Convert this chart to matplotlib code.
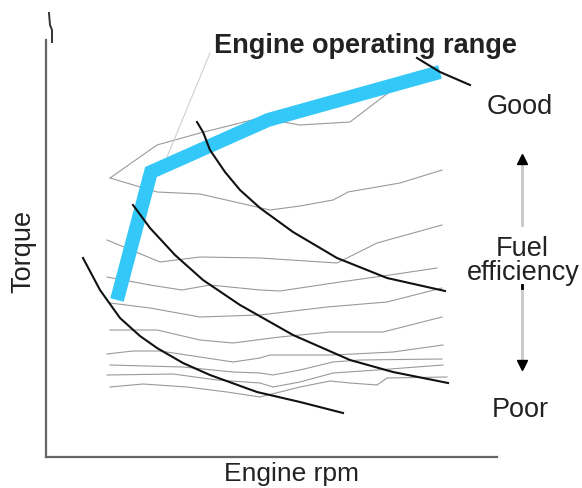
# ==========================================
# ENGINE OPERATING RANGE - FUEL EFFICIENCY MAP
# ==========================================

import matplotlib
matplotlib.use("Agg")
import matplotlib.pyplot as plt

plt.rcParams["font.family"] = ["Liberation Sans", "DejaVu Sans"]

# ==========================================
# DATA (rpm / torque in arbitrary chart units)
# ==========================================
# thick blue operating line
range_rpm = [71, 105, 222, 394]
range_torque = [157, 285, 337, 385]

# leader from the title to the operating line
leader_rpm = [164, 121]
leader_torque = [404, 300]

# black constant power curves
power1_rpm = [37, 54, 74, 94, 111, 137, 164, 211, 254, 297]
power1_torque = [199, 167, 139, 121, 109, 94, 82, 65, 55, 44]

power2_rpm = [87, 104, 129, 157, 194, 217, 247, 304, 347, 402]
power2_torque = [252, 229, 202, 177, 152, 139, 122, 97, 85, 74]

power3_rpm = [151, 157, 164, 179, 194, 214, 247, 291, 341, 399]
power3_torque = [335, 325, 307, 285, 267, 249, 225, 199, 179, 166]

power4_rpm = [371, 394, 424]
power4_torque = [399, 385, 372]

# grey fuel efficiency contours (best at top)
eff1_rpm = [64, 111, 154, 214, 254, 304, 359, 341]
eff1_torque = [279, 312, 324, 339, 332, 335, 377, 374]

eff2_rpm = [64, 111, 154, 224, 254, 287, 302, 354, 396]
eff2_torque = [279, 265, 263, 247, 251, 257, 265, 274, 287]

eff3_rpm = [61, 114, 154, 214, 291, 331, 396]
eff3_torque = [217, 195, 200, 199, 194, 214, 232]

eff4_rpm = [61, 104, 136, 164, 214, 234, 294, 344, 391]
eff4_torque = [180, 172, 167, 172, 167, 166, 175, 182, 189]

eff5_rpm = [64, 104, 154, 214, 281, 341, 396]
eff5_torque = [154, 149, 140, 142, 150, 155, 169]

eff6_rpm = [64, 111, 154, 187, 234, 284, 337, 396]
eff6_torque = [127, 127, 117, 114, 120, 125, 125, 140]

eff7_rpm = [61, 87, 114, 154, 187, 214, 224, 287, 347, 397]
eff7_torque = [103, 106, 106, 100, 95, 99, 102, 102, 105, 112]

eff8_rpm = [64, 137, 187, 214, 227, 254, 287, 314, 396]
eff8_torque = [92, 90, 85, 84, 82, 87, 95, 97, 98]

eff9_rpm = [61, 127, 171, 214, 227, 254, 287, 331, 397]
eff9_torque = [82, 83, 77, 74, 70, 75, 84, 87, 92]

eff10_rpm = [64, 97, 141, 181, 214, 254, 284, 304, 331, 341, 401]
eff10_torque = [70, 73, 70, 65, 60, 70, 76, 74, 72, 79, 80]

eff_rpm = [eff1_rpm, eff2_rpm, eff3_rpm, eff4_rpm, eff5_rpm,
           eff6_rpm, eff7_rpm, eff8_rpm, eff9_rpm, eff10_rpm]
eff_torque = [eff1_torque, eff2_torque, eff3_torque, eff4_torque, eff5_torque,
              eff6_torque, eff7_torque, eff8_torque, eff9_torque, eff10_torque]

power_rpm = [power1_rpm, power2_rpm, power3_rpm, power4_rpm]
power_torque = [power1_torque, power2_torque, power3_torque, power4_torque]

# ==========================================
# FIGURE
# ==========================================
fig = plt.figure(figsize=(5.82, 4.88), dpi=100)
ax = fig.add_axes([46 / 582, 31 / 488, 451 / 582, 417 / 488])
ax.set_xlim(0, 451)
ax.set_ylim(0, 417)

for s in ["top", "right"]:
    ax.spines[s].set_visible(False)
for s in ["left", "bottom"]:
    ax.spines[s].set_color("#666666")
    ax.spines[s].set_linewidth(1.6)
ax.set_xticks([])
ax.set_yticks([])

# small break mark on top of the torque axis
ax.plot([3, 4, 6, 6], [444, 432, 427, 415], color="#333333", lw=1.4,
        clip_on=False)

# ==========================================
# CONTOURS AND CURVES
# ==========================================
for xs, ys in zip(eff_rpm, eff_torque):
    ax.plot(xs, ys, color="#9a9a9a", lw=0.8)

ax.plot(leader_rpm, leader_torque, color="#d0d0d0", lw=0.8)

ax.plot(range_rpm, range_torque, color="#33c8f7", lw=10,
        solid_capstyle="butt", solid_joinstyle="miter")

for xs, ys in zip(power_rpm, power_torque):
    ax.plot(xs, ys, color="#111111", lw=1.5, clip_on=False)

# ==========================================
# TEXT AND ARROWS
# ==========================================
ax.text(319, 404, "Engine operating range", fontsize=19.5, fontweight="bold",
        color="#222222", ha="center", va="baseline")

ax.text(474, 343, "Good", fontsize=19.5, color="#222222", ha="center",
        va="baseline", clip_on=False)
ax.text(476, 201, "Fuel", fontsize=19.5, color="#222222", ha="center",
        va="baseline", clip_on=False)
ax.text(477, 177, "efficiency", fontsize=19.5, color="#222222", ha="center",
        va="baseline", clip_on=False)
ax.text(474, 40, "Poor", fontsize=19.5, color="#222222", ha="center",
        va="baseline", clip_on=False)

ax.text(-23, 206, "Torque", fontsize=19.5, color="#222222", ha="center",
        va="center", rotation=90, clip_on=False)
ax.text(245, -24, "Engine rpm", fontsize=19, color="#222222", ha="center",
        va="baseline", clip_on=False)

# up arrow (good)
ax.plot([476, 476], [232, 300], color="#c8c8c8", lw=2, clip_on=False)
ax.plot([476], [298], marker="^", color="black", ms=7, clip_on=False)
# down arrow (poor)
ax.plot([476, 476], [172, 90], color="#c8c8c8", lw=2, clip_on=False)
ax.plot([476, 476], [172, 169], color="black", lw=2, clip_on=False)
ax.plot([476], [92], marker="v", color="black", ms=7, clip_on=False)

plt.savefig("out.png", dpi=100)
